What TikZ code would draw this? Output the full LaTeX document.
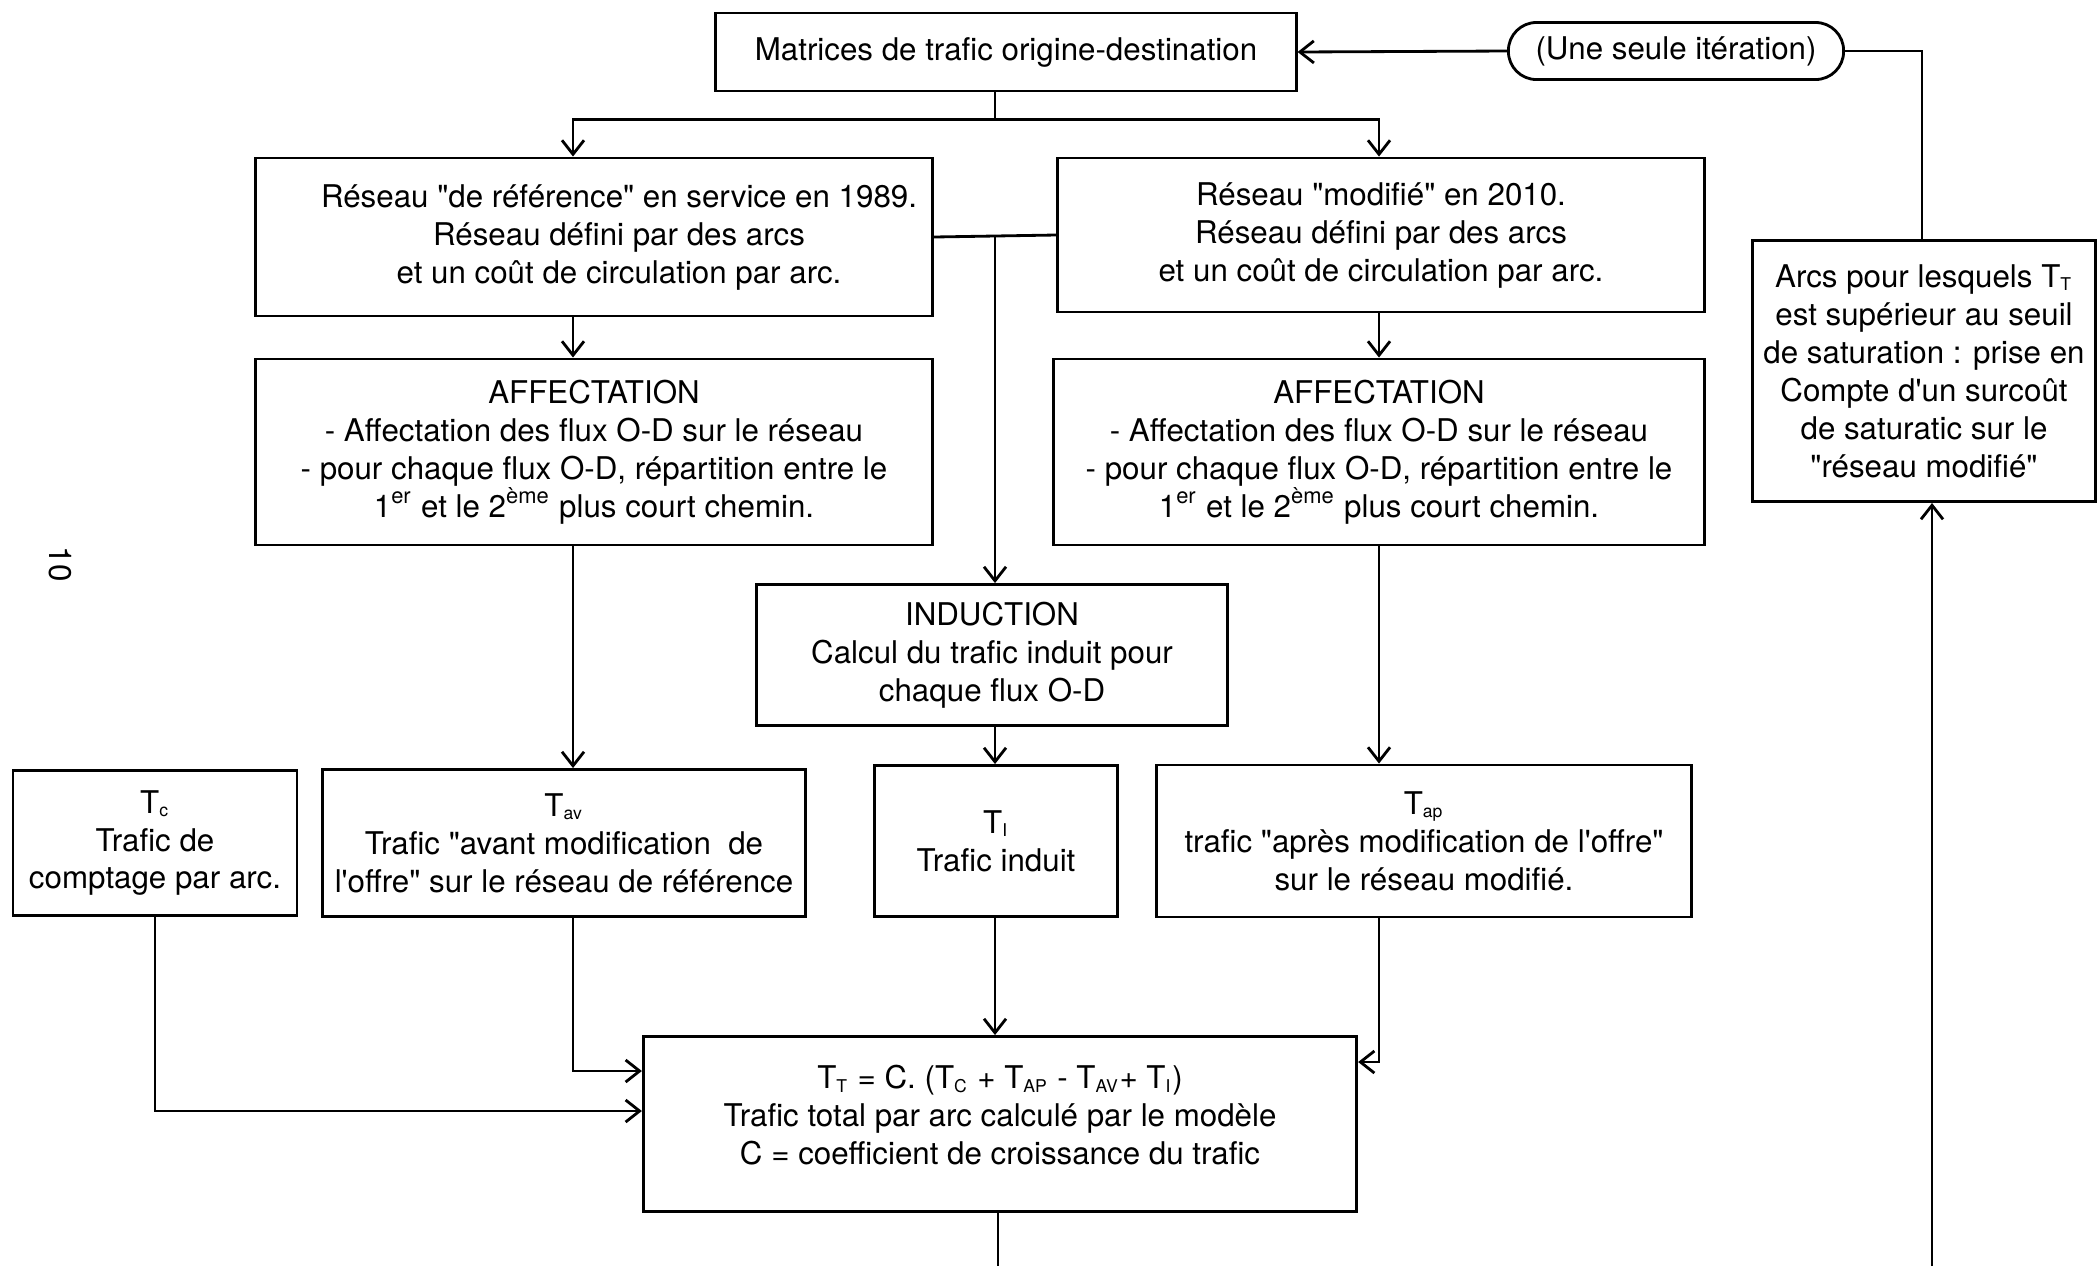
\documentclass[tikz,border=0pt]{standalone}
\usepackage{fontspec}
\setmainfont{TeX Gyre Heros}
\usetikzlibrary{arrows.meta}
\newcommand{\indice}[1]{\textsubscript{\tiny #1}}
\newcommand{\dq}{\textquotedbl}

\begin{document}
\begin{tikzpicture}[%
  x=0.01cm, y=-0.01cm,
  font=\fontsize{8.9}{10.8}\selectfont,
  line width=0.8pt,
  >={Straight Barb[length=1.4mm,width=2.2mm]},
  bloc/.style={draw, align=center, inner sep=0pt},
  iter/.style={draw, align=center, inner sep=0pt, rounded corners=0.28cm}]
\useasboundingbox (0,0) rectangle (2100,1266);
\node[bloc, minimum width=5.80cm, minimum height=0.78cm] (mat) at (1006,52) {Matrices de trafic origine-destination};
\node[iter, minimum width=3.35cm, minimum height=0.57cm] (seule) at (1676,51) {(Une seule itération)};
\node[bloc, minimum width=6.77cm, minimum height=1.58cm] (ref) at (594,237)
	{\hspace*{0.5cm}Réseau \dq de référence\dq\ en service en 1989.\\
	\hspace*{0.5cm}Réseau défini par des arcs\\
	\hspace*{0.5cm}et un coût de circulation par arc.};
\node[bloc, minimum width=6.47cm, minimum height=1.54cm] (mod) at (1381,235)
	{Réseau \dq modifié\dq\ en 2010.\\
	Réseau défini par des arcs\\
	et un coût de circulation par arc.};
\node[bloc, minimum width=6.77cm, minimum height=1.86cm] (aff1) at (594,452)
	{AFFECTATION\\
	- Affectation des flux O-D sur le réseau\\
	- pour chaque flux O-D, répartition entre le\\
	1\textsuperscript{er} et le 2\textsuperscript{ème} plus court chemin.};
\node[bloc, minimum width=6.51cm, minimum height=1.86cm] (aff2) at (1379,452)
	{AFFECTATION\\
	- Affectation des flux O-D sur le réseau\\
	- pour chaque flux O-D, répartition entre le\\
	1\textsuperscript{er} et le 2\textsuperscript{ème} plus court chemin.};
\node[bloc, minimum width=4.70cm, minimum height=1.41cm] (ind) at (992,655)
	{INDUCTION\\
	Calcul du trafic induit pour\\
	chaque flux O-D};
\node[bloc, minimum width=2.84cm, minimum height=1.45cm] (tc) at (155,843)
	{T\indice{c}\\
	Trafic de\\
	comptage par arc.};
\node[bloc, minimum width=4.82cm, minimum height=1.47cm] (tav) at (564,843)
	{T\indice{av}\\
	Trafic \dq avant modification~ de\\
	l\textquotesingle offre\dq\ sur le réseau de référence};
\node[bloc, minimum width=2.43cm, minimum height=1.51cm] (ti) at (996,841)
	{T\indice{I}\\
	Trafic induit};
\node[bloc, minimum width=5.35cm, minimum height=1.52cm] (tap) at (1424,841)
	{T\indice{ap}\\
	trafic \dq après modification de l\textquotesingle offre\dq\\
	sur le réseau modifié.};
\node[bloc, minimum width=7.13cm, minimum height=1.75cm] (tot) at (1000,1124)
	{T\indice{T} = C. (T\indice{C} + T\indice{AP} - T\indice{AV}+ T\indice{I})\\
	Trafic total par arc calculé par le modèle\\
	C = coefficient de croissance du trafic\\[-0.2cm]};
\node[bloc, minimum width=3.43cm, minimum height=2.61cm] (arcs) at (1924,371)
	{Arcs pour lesquels T\indice{T}\\
	est supérieur au seuil\\
	de saturation : prise en\\
	Compte d\textquotesingle un surcoût\\
	de saturatic sur le\\
	\dq réseau modifié\dq};
\node[rotate=-90] (page) at (60,564) {10};
\coordinate (gauche) at (573,0);
\coordinate (milieu) at (995,0);
\coordinate (droite) at (1379,0);
\coordinate (bas) at (998,1266);
\coordinate (pied) at (1932,1266);
\draw (mat.south -| milieu) -- ++(0,27) coordinate (fourche);
\draw[->] (fourche) -| (ref.north -| gauche);
\draw[->] (fourche) -| (mod.north -| droite);
\draw (ref.east) -- (mod.west);
\draw[->] (ref.south -| gauche) -- (aff1.north -| gauche);
\draw[->] (mod.south -| droite) -- (aff2.north -| droite);
\draw[->] (ref.east -| milieu) -- (ind.north -| milieu);
\draw[->] (aff1.south -| gauche) -- (tav.north -| gauche);
\draw[->] (aff2.south -| droite) -- (tap.north -| droite);
\draw[->] (ind.south -| milieu) -- (ti.north -| milieu);
\draw[->] (ti.south -| milieu) -- (tot.north -| milieu);
\draw[->] (tav.south -| gauche) |- (tot.west |- 0,1071);
\draw[->] (tc.south) |- (tot.west |- 0,1111);
\draw[->] (tap.south -| droite) |- (tot.east |- 0,1062);
\draw (tot.south -| bas) -- (bas);
\draw[->] (seule.west) -- (mat.east);
\draw (seule.east) -| (arcs.north -| 1922,0);
\draw[->] (pied) -- (arcs.south -| pied);
\end{tikzpicture}
\end{document}
